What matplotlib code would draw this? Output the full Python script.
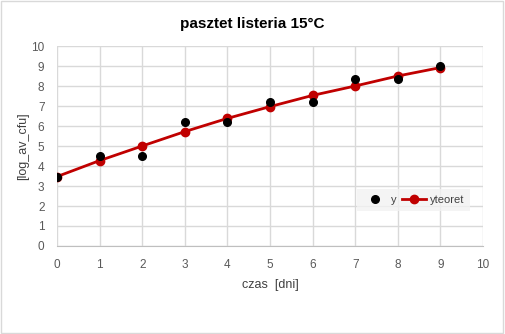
import numpy as np
import matplotlib.pyplot as plt

days = [0, 1, 2, 3, 4, 5, 6, 7, 8, 9]
y_obs = [3.47, 4.5, 4.5, 6.2, 6.2, 7.2, 7.2, 8.33, 8.33, 9.0]
y_teor = [3.47, 4.27, 5.0, 5.72, 6.38, 6.97, 7.53, 8.0, 8.5, 8.92]

plt.rcParams['font.family'] = ['Liberation Sans', 'DejaVu Sans']

fig = plt.figure(figsize=(5.05, 3.34), dpi=100)
fig.patches.append(plt.Rectangle((0.002, 0.003), 0.995, 0.994, transform=fig.transFigure,
                                 fill=False, edgecolor='#d9d9d9', linewidth=1))
ax = fig.add_axes([57/505, 1 - 246/334, 426/505, 200/334])

ax.plot(days, y_teor, '-o', color='#c00000', linewidth=2, markersize=6, label='yteoret', zorder=3)
ax.plot(days, y_obs, 'o', color='black', markersize=5.5, label='y', zorder=4)

ax.set_xlim(0, 10)
ax.set_ylim(0, 10)
ax.set_xticks(range(0, 11))
ax.set_yticks(range(0, 11))
ax.grid(True, color='#d9d9d9', linewidth=1)
ax.set_axisbelow(True)
for s in ['top', 'right', 'left']:
    ax.spines[s].set_visible(False)
ax.spines['bottom'].set_color('#bfbfbf')
ax.tick_params(length=0, labelsize=8.5, colors='#595959', pad=9)

ax.set_xlabel('czas  [dni]', fontsize=9, color='#404040', labelpad=6)
ax.set_ylabel('[log_av_cfu]', fontsize=9, color='#404040')
ax.yaxis.set_label_coords(-0.066, 0.5)
fig.suptitle('pasztet listeria 15°C', fontsize=11, fontweight='bold', y=0.95)

h, l = ax.get_legend_handles_labels()
leg = ax.legend(h[::-1], l[::-1], loc='center left', bbox_to_anchor=(0.692, 0.23), ncol=2,
                frameon=True, fontsize=8, handlelength=2.2, columnspacing=0.5,
                handletextpad=0.3, borderpad=0.5)
leg.get_frame().set_facecolor('#f2f2f2')
leg.get_frame().set_edgecolor('none')
leg.get_frame().set_boxstyle('square', pad=0)
for t in leg.get_texts():
    t.set_color('#404040')

fig.savefig('out.png', dpi=100)
